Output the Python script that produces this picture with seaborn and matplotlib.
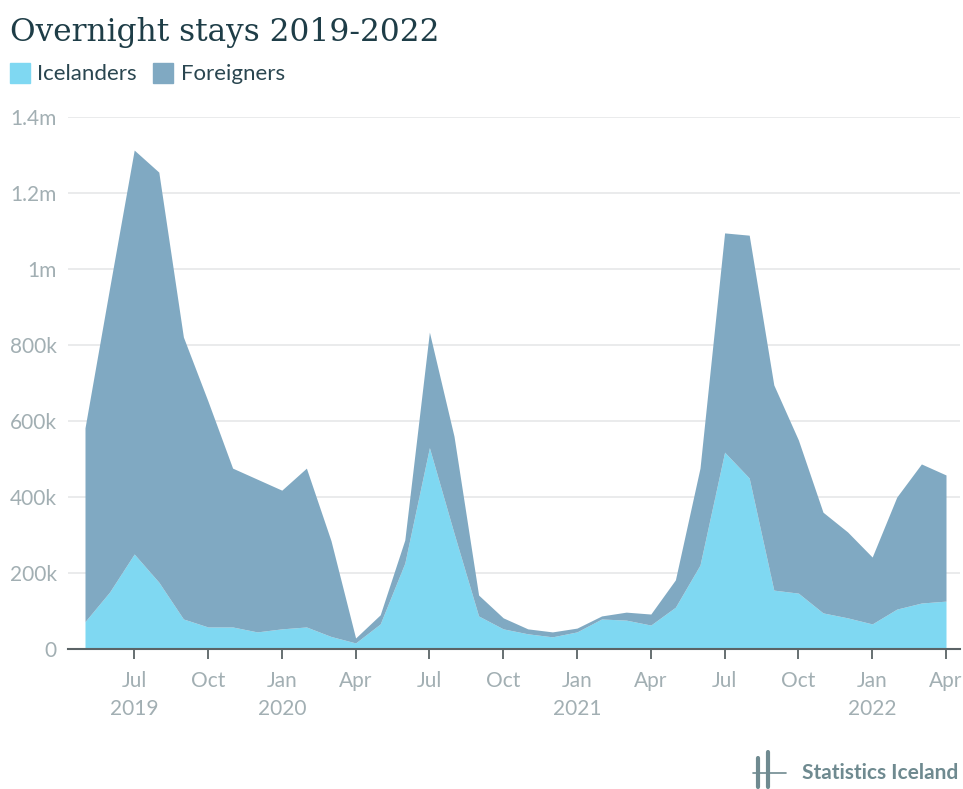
# Overnight stays 2019-2022 - stacked area chart
import numpy as np
import matplotlib.pyplot as plt
import seaborn as sns
from matplotlib.lines import Line2D

# data, monthly May 2019 - Apr 2022
months = ["May 2019", "Jun 2019", "Jul 2019", "Aug 2019", "Sep 2019", "Oct 2019",
          "Nov 2019", "Dec 2019", "Jan 2020", "Feb 2020", "Mar 2020", "Apr 2020",
          "May 2020", "Jun 2020", "Jul 2020", "Aug 2020", "Sep 2020", "Oct 2020",
          "Nov 2020", "Dec 2020", "Jan 2021", "Feb 2021", "Mar 2021", "Apr 2021",
          "May 2021", "Jun 2021", "Jul 2021", "Aug 2021", "Sep 2021", "Oct 2021",
          "Nov 2021", "Dec 2021", "Jan 2022", "Feb 2022", "Mar 2022", "Apr 2022"]
icelanders = [72, 150, 250, 176, 79, 58, 58, 45, 53, 58, 33, 16,
              66, 226, 530, 305, 87, 53, 40, 32, 45, 79, 76, 63,
              110, 221, 518, 450, 155, 147, 95, 82, 66, 105, 121, 126]
total = [582, 950, 1313, 1255, 821, 652, 476, 447, 418, 476, 285, 29,
         90, 287, 834, 560, 142, 82, 53, 45, 55, 87, 97, 92,
         182, 476, 1095, 1089, 695, 550, 360, 308, 242, 400, 487, 458]
foreigners = [t - i for t, i in zip(total, icelanders)]

tick_idx = [2, 5, 8, 11, 14, 17, 20, 23, 26, 29, 32, 35]
tick_labels = ["Jul\n2019", "Oct", "Jan\n2020", "Apr", "Jul", "Oct",
               "Jan\n2021", "Apr", "Jul", "Oct", "Jan\n2022", "Apr"]
y_ticks = [0, 200, 400, 600, 800, 1000, 1200, 1400]
y_labels = ["0", "200k", "400k", "600k", "800k", "1m", "1.2m", "1.4m"]

c_ice = "#7fd8f2"
c_for = "#80a9c2"
c_tick = "#a2afb3"

sns.set_theme(style="white")
plt.rcParams["font.family"] = ["Lato", "DejaVu Sans"]

fig = plt.figure(figsize=(9.63, 7.89), dpi=100)
ax = fig.add_axes([68 / 963, (789 - 649) / 789, (960 - 68) / 963, (649 - 117) / 789])

x = np.arange(len(months))
ax.stackplot(x, np.array(icelanders) * 1000, np.array(foreigners) * 1000,
             colors=[c_ice, c_for], linewidth=0, zorder=2)

ax.set_xlim(-17 / 24.6, 35 + 14 / 24.6)
ax.set_ylim(0, 1.4e6)

ax.set_yticks(np.array(y_ticks) * 1000)
ax.set_yticklabels(y_labels)
ax.set_xticks(tick_idx)
ax.set_xticklabels(tick_labels, linespacing=1.5)

ax.yaxis.grid(True, color="#e6e8e9", linewidth=1.2, zorder=0)
ax.set_axisbelow(True)
for s in ["top", "right", "left"]:
    ax.spines[s].set_visible(False)
ax.spines["bottom"].set_color("#5b6366")
ax.spines["bottom"].set_linewidth(1.5)
ax.spines["bottom"].set_zorder(3)

ax.tick_params(axis="y", length=0, pad=8, labelsize=15, labelcolor=c_tick)
ax.tick_params(axis="x", length=7, width=1.3, color="#5b6366", pad=9,
               labelsize=15, labelcolor=c_tick, bottom=True)

# title and legend
fig.text(10 / 963, 1 - 32 / 789, "Overnight stays 2019-2022", fontsize=22.5,
         family=["DejaVu Serif"], color="#1e3d47", va="center", ha="left")
fig.patches.append(plt.Rectangle((10 / 963, 1 - 83 / 789), 20 / 963, 20 / 789,
                                 transform=fig.transFigure, color=c_ice))
fig.text(37 / 963, 1 - 74 / 789, "Icelanders", fontsize=16, color="#2a4650",
         va="center", ha="left")
fig.patches.append(plt.Rectangle((153 / 963, 1 - 83 / 789), 20 / 963, 20 / 789,
                                 transform=fig.transFigure, color=c_for))
fig.text(181 / 963, 1 - 74 / 789, "Foreigners", fontsize=16, color="#2a4650",
         va="center", ha="left")

# Statistics Iceland logo
logo_c = "#6f8a90"
fig.add_artist(Line2D([758 / 963, 758 / 963], [1 - 758 / 789, 1 - 787 / 789],
                      color=logo_c, linewidth=3))
fig.add_artist(Line2D([768 / 963, 768 / 963], [1 - 752 / 789, 1 - 787 / 789],
                      color=logo_c, linewidth=3))
fig.add_artist(Line2D([753 / 963, 786 / 963], [1 - 773 / 789, 1 - 773 / 789],
                      color=logo_c, linewidth=1.2))
fig.text(802 / 963, 1 - 773 / 789, "Statistics Iceland", fontsize=15,
         color=logo_c, fontweight="bold", va="center", ha="left")

fig.savefig("out.png", dpi=100)
